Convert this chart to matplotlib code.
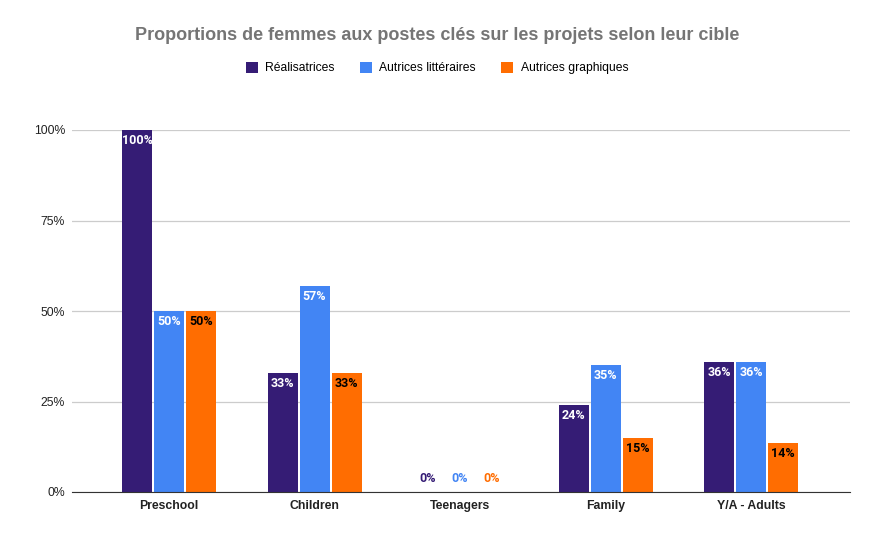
import numpy as np
import matplotlib.pyplot as plt

plt.rcParams['font.family'] = ['Liberation Sans', 'DejaVu Sans']

# Données
categories = ["Preschool", "Children", "Teenagers", "Family", "Y/A - Adults"]
series = ["Réalisatrices", "Autrices littéraires", "Autrices graphiques"]
realisatrices = [1.00, 0.33, 0.00, 0.24, 0.36]
litteraires = [0.50, 0.57, 0.00, 0.35, 0.36]
graphiques = [0.50, 0.33, 0.00, 0.15, 0.135]
couleurs = ["#351c75", "#4285f4", "#ff6d01"]
couleurs_texte = ["white", "white", "black"]

fig = plt.figure(figsize=(8.74, 5.38), dpi=100)
ax = fig.add_axes([72 / 874, 1 - 492 / 538, 778 / 874, 362 / 538])

x = np.arange(len(categories))
pas = 0.22
largeur = 0.206
valeurs = [realisatrices, litteraires, graphiques]

for i, (nom, vals) in enumerate(zip(series, valeurs)):
    pos = x + (i - 1) * pas
    ax.bar(pos, vals, largeur, color=couleurs[i], label=nom, zorder=3)
    for p, v in zip(pos, vals):
        etiquette = f"{round(v * 100):.0f}%"
        if v == 0:
            ax.text(p, 0.02, etiquette, ha="center", va="bottom", family="Roboto",
                    fontsize=9, fontweight="bold", color=couleurs[i], zorder=4)
        else:
            ax.text(p, v - 0.011, etiquette, ha="center", va="top", family="Roboto",
                    fontsize=9, fontweight="bold", color=couleurs_texte[i], zorder=4)

ax.set_xlim(-0.667, 4.68)
ax.set_ylim(0, 1.0)
ax.set_yticks([0, 0.25, 0.5, 0.75, 1.0])
ax.set_yticklabels(["0%", "25%", "50%", "75%", "100%"])
ax.set_xticks(x)
ax.set_xticklabels(categories, fontweight="bold")
ax.tick_params(axis="both", length=0, labelsize=8.8, colors="#222222")
ax.tick_params(axis="x", pad=6)
ax.tick_params(axis="y", pad=5)
ax.grid(axis="y", color="#cccccc", linewidth=0.9, zorder=0)
for s in ["top", "right", "left"]:
    ax.spines[s].set_visible(False)
ax.spines["bottom"].set_color("#333333")
ax.spines["bottom"].set_zorder(5)

fig.text(0.5, 1 - 35 / 538, "Proportions de femmes aux postes clés sur les projets selon leur cible",
         ha="center", va="center", fontsize=13, fontweight="bold", color="#757575")
fig.legend(loc="center", bbox_to_anchor=(0.5, 1 - 68 / 538), ncol=3, frameon=False,
           fontsize=8.7, handlelength=1.0, handleheight=1.0, handletextpad=0.6, columnspacing=2.1)

plt.savefig("out.png")
